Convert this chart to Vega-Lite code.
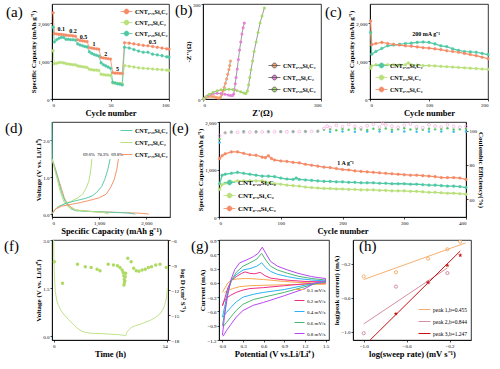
{
"$schema":"https://vega.github.io/schema/vega-lite/v6.json",
"padding":{"left":3,"top":1,"right":2,"bottom":2},
"background":"white",
"config":{
 "font":"Liberation Serif",
 "view":{"stroke":"#000","strokeWidth":0.8},
 "axis":{"grid":false,"labelFont":"Liberation Serif","labelFontSize":5,"labelColor":"#000","labelPadding":1,"tickSize":2,"tickColor":"#000","tickWidth":0.7,"domainColor":"#000","domainWidth":0.8,"titleFont":"Liberation Serif","titleFontWeight":"bold","titleColor":"#000","titlePadding":1,"labelOverlap":false},
 "axisX":{"titleFontSize":8.5},
 "axisY":{"titleFontSize":7},
 "legend":{"labelFont":"Liberation Serif","labelFontSize":6,"labelFontWeight":"bold","labelColor":"#000","padding":0,"rowPadding":1,"offset":2,"labelOffset":2,"symbolStrokeWidth":0.8},
 "title":{"anchor":"start","frame":"group","baseline":"top","offset":-16,"fontSize":15,"fontWeight":"normal","font":"Liberation Serif","color":"#000"},
 "text":{"font":"Liberation Serif","fontWeight":"bold","fontSize":6,"color":"#000"}
},
"datasets":{
 "a":[
  {"c":1,"v":2270,"s":"A"},{"c":2,"v":1720,"s":"A"},{"c":4,"v":1710,"s":"A"},{"c":6,"v":1700,"s":"A"},{"c":8,"v":1700,"s":"A"},{"c":10,"v":1690,"s":"A"},{"c":12,"v":1680,"s":"A"},{"c":14,"v":1670,"s":"A"},{"c":16,"v":1670,"s":"A"},{"c":18,"v":1660,"s":"A"},{"c":20,"v":1650,"s":"A"},{"c":22,"v":1560,"s":"A"},{"c":24,"v":1540,"s":"A"},{"c":26,"v":1530,"s":"A"},{"c":28,"v":1520,"s":"A"},{"c":30,"v":1510,"s":"A"},{"c":32,"v":1350,"s":"A"},{"c":34,"v":1340,"s":"A"},{"c":36,"v":1330,"s":"A"},{"c":38,"v":1320,"s":"A"},{"c":40,"v":1310,"s":"A"},{"c":42,"v":1090,"s":"A"},{"c":44,"v":1080,"s":"A"},{"c":46,"v":1070,"s":"A"},{"c":48,"v":1060,"s":"A"},{"c":50,"v":1050,"s":"A"},{"c":52,"v":690,"s":"A"},{"c":54,"v":680,"s":"A"},{"c":56,"v":680,"s":"A"},{"c":58,"v":675,"s":"A"},{"c":60,"v":670,"s":"A"},{"c":62,"v":1480,"s":"A"},{"c":66,"v":1470,"s":"A"},{"c":70,"v":1450,"s":"A"},{"c":74,"v":1430,"s":"A"},{"c":78,"v":1410,"s":"A"},{"c":82,"v":1400,"s":"A"},{"c":86,"v":1380,"s":"A"},{"c":90,"v":1360,"s":"A"},{"c":94,"v":1340,"s":"A"},{"c":98,"v":1320,"s":"A"},{"c":100,"v":1310,"s":"A"},
  {"c":1,"v":1270,"s":"B"},{"c":2,"v":930,"s":"B"},{"c":4,"v":940,"s":"B"},{"c":6,"v":960,"s":"B"},{"c":8,"v":960,"s":"B"},{"c":10,"v":950,"s":"B"},{"c":12,"v":930,"s":"B"},{"c":14,"v":920,"s":"B"},{"c":16,"v":910,"s":"B"},{"c":18,"v":900,"s":"B"},{"c":20,"v":900,"s":"B"},{"c":22,"v":870,"s":"B"},{"c":24,"v":860,"s":"B"},{"c":26,"v":850,"s":"B"},{"c":28,"v":840,"s":"B"},{"c":30,"v":830,"s":"B"},{"c":32,"v":780,"s":"B"},{"c":34,"v":770,"s":"B"},{"c":36,"v":760,"s":"B"},{"c":38,"v":760,"s":"B"},{"c":40,"v":750,"s":"B"},{"c":42,"v":650,"s":"B"},{"c":44,"v":640,"s":"B"},{"c":46,"v":630,"s":"B"},{"c":48,"v":630,"s":"B"},{"c":50,"v":620,"s":"B"},{"c":52,"v":420,"s":"B"},{"c":54,"v":420,"s":"B"},{"c":56,"v":410,"s":"B"},{"c":58,"v":410,"s":"B"},{"c":60,"v":400,"s":"B"},{"c":62,"v":880,"s":"B"},{"c":66,"v":860,"s":"B"},{"c":70,"v":840,"s":"B"},{"c":74,"v":820,"s":"B"},{"c":78,"v":810,"s":"B"},{"c":82,"v":800,"s":"B"},{"c":86,"v":790,"s":"B"},{"c":90,"v":780,"s":"B"},{"c":94,"v":770,"s":"B"},{"c":98,"v":760,"s":"B"},{"c":100,"v":750,"s":"B"},
  {"c":1,"v":1890,"s":"C"},{"c":2,"v":1500,"s":"C"},{"c":4,"v":1560,"s":"C"},{"c":6,"v":1600,"s":"C"},{"c":8,"v":1620,"s":"C"},{"c":10,"v":1620,"s":"C"},{"c":12,"v":1570,"s":"C"},{"c":14,"v":1570,"s":"C"},{"c":16,"v":1560,"s":"C"},{"c":18,"v":1560,"s":"C"},{"c":20,"v":1550,"s":"C"},{"c":22,"v":1450,"s":"C"},{"c":24,"v":1420,"s":"C"},{"c":26,"v":1400,"s":"C"},{"c":28,"v":1380,"s":"C"},{"c":30,"v":1370,"s":"C"},{"c":32,"v":1240,"s":"C"},{"c":34,"v":1200,"s":"C"},{"c":36,"v":1170,"s":"C"},{"c":38,"v":1150,"s":"C"},{"c":40,"v":1130,"s":"C"},{"c":42,"v":950,"s":"C"},{"c":44,"v":900,"s":"C"},{"c":46,"v":870,"s":"C"},{"c":48,"v":840,"s":"C"},{"c":50,"v":810,"s":"C"},{"c":52,"v":440,"s":"C"},{"c":54,"v":420,"s":"C"},{"c":56,"v":400,"s":"C"},{"c":58,"v":390,"s":"C"},{"c":60,"v":370,"s":"C"},{"c":62,"v":1360,"s":"C"},{"c":66,"v":1340,"s":"C"},{"c":70,"v":1300,"s":"C"},{"c":74,"v":1260,"s":"C"},{"c":78,"v":1230,"s":"C"},{"c":82,"v":1230,"s":"C"},{"c":86,"v":1180,"s":"C"},{"c":90,"v":1160,"s":"C"},{"c":94,"v":1140,"s":"C"},{"c":98,"v":1110,"s":"C"},{"c":100,"v":1100,"s":"C"}
 ],
 "at":[{"x":8,"y":1830,"t":"0.1"},{"x":18,"y":1790,"t":"0.2"},{"x":27,"y":1640,"t":"0.5"},{"x":36,"y":1440,"t":"1"},{"x":46,"y":1180,"t":"2"},{"x":56,"y":790,"t":"5"},{"x":86,"y":1500,"t":"0.5"}],
 "b":[
  {"x":2,"y":0,"s":"A"},{"x":5,"y":3,"s":"A"},{"x":9,"y":6,"s":"A"},{"x":14,"y":8,"s":"A"},{"x":19,"y":8.5,"s":"A"},{"x":24,"y":8,"s":"A"},{"x":29,"y":7,"s":"A"},{"x":34,"y":5,"s":"A"},{"x":38,"y":3,"s":"A"},{"x":42,"y":3,"s":"A"},{"x":45,"y":6,"s":"A"},{"x":48,"y":14,"s":"A"},{"x":51,"y":25,"s":"A"},{"x":54,"y":37,"s":"A"},{"x":57,"y":50,"s":"A"},{"x":60,"y":63,"s":"A"},{"x":63,"y":78,"s":"A"},{"x":66,"y":93,"s":"A"},{"x":68,"y":106,"s":"A"},{"x":70,"y":120,"s":"A"},
  {"x":2,"y":0,"s":"B"},{"x":6,"y":5,"s":"B"},{"x":12,"y":10,"s":"B"},{"x":18,"y":14,"s":"B"},{"x":26,"y":17,"s":"B"},{"x":36,"y":18,"s":"B"},{"x":46,"y":17,"s":"B"},{"x":56,"y":15,"s":"B"},{"x":64,"y":13,"s":"B"},{"x":70,"y":11,"s":"B"},{"x":75,"y":11,"s":"B"},{"x":78,"y":16,"s":"B"},{"x":80,"y":30,"s":"B"},{"x":82,"y":48,"s":"B"},{"x":84,"y":68,"s":"B"},{"x":87,"y":95,"s":"B"},{"x":90,"y":125,"s":"B"},{"x":93,"y":155,"s":"B"},{"x":96,"y":180,"s":"B"},{"x":99,"y":205,"s":"B"},{"x":102,"y":225,"s":"B"},{"x":105,"y":240,"s":"B"},
  {"x":2,"y":0,"s":"C"},{"x":8,"y":8,"s":"C"},{"x":16,"y":15,"s":"C"},{"x":26,"y":21,"s":"C"},{"x":36,"y":26,"s":"C"},{"x":46,"y":29,"s":"C"},{"x":56,"y":30,"s":"C"},{"x":66,"y":31,"s":"C"},{"x":76,"y":30,"s":"C"},{"x":86,"y":27,"s":"C"},{"x":96,"y":23,"s":"C"},{"x":104,"y":19,"s":"C"},{"x":109,"y":17,"s":"C"},{"x":113,"y":25,"s":"C"},{"x":116,"y":45,"s":"C"},{"x":119,"y":68,"s":"C"},{"x":122,"y":92,"s":"C"},{"x":126,"y":120,"s":"C"},{"x":130,"y":150,"s":"C"},{"x":135,"y":180,"s":"C"},{"x":140,"y":210,"s":"C"},{"x":145,"y":240,"s":"C"},{"x":150,"y":262,"s":"C"},{"x":156,"y":287,"s":"C"}
 ],
 "c":[
  {"c":1,"v":1750,"s":"C"},{"c":3,"v":1180,"s":"C"},{"c":10,"v":1250,"s":"C"},{"c":20,"v":1330,"s":"C"},{"c":30,"v":1400,"s":"C"},{"c":40,"v":1420,"s":"C"},{"c":50,"v":1440,"s":"C"},{"c":60,"v":1460,"s":"C"},{"c":70,"v":1470,"s":"C"},{"c":80,"v":1490,"s":"C"},{"c":90,"v":1500,"s":"C"},{"c":100,"v":1490,"s":"C"},{"c":110,"v":1450,"s":"C"},{"c":120,"v":1400,"s":"C"},{"c":130,"v":1380,"s":"C"},{"c":140,"v":1320,"s":"C"},{"c":150,"v":1280,"s":"C"},{"c":160,"v":1250,"s":"C"},{"c":170,"v":1240,"s":"C"},{"c":180,"v":1230,"s":"C"},{"c":190,"v":1200,"s":"C"},{"c":200,"v":1170,"s":"C"},
  {"c":1,"v":810,"s":"B"},{"c":3,"v":870,"s":"B"},{"c":10,"v":900,"s":"B"},{"c":20,"v":910,"s":"B"},{"c":30,"v":900,"s":"B"},{"c":40,"v":900,"s":"B"},{"c":50,"v":890,"s":"B"},{"c":60,"v":900,"s":"B"},{"c":65,"v":950,"s":"B"},{"c":70,"v":900,"s":"B"},{"c":80,"v":890,"s":"B"},{"c":90,"v":880,"s":"B"},{"c":100,"v":880,"s":"B"},{"c":110,"v":870,"s":"B"},{"c":120,"v":860,"s":"B"},{"c":130,"v":850,"s":"B"},{"c":140,"v":840,"s":"B"},{"c":150,"v":830,"s":"B"},{"c":160,"v":820,"s":"B"},{"c":170,"v":810,"s":"B"},{"c":180,"v":800,"s":"B"},{"c":190,"v":790,"s":"B"},{"c":200,"v":780,"s":"B"},
  {"c":1,"v":2050,"s":"A"},{"c":3,"v":1430,"s":"A"},{"c":10,"v":1460,"s":"A"},{"c":20,"v":1490,"s":"A"},{"c":30,"v":1460,"s":"A"},{"c":40,"v":1440,"s":"A"},{"c":50,"v":1420,"s":"A"},{"c":60,"v":1400,"s":"A"},{"c":70,"v":1390,"s":"A"},{"c":80,"v":1370,"s":"A"},{"c":90,"v":1350,"s":"A"},{"c":100,"v":1340,"s":"A"},{"c":110,"v":1320,"s":"A"},{"c":120,"v":1300,"s":"A"},{"c":130,"v":1270,"s":"A"},{"c":140,"v":1250,"s":"A"},{"c":150,"v":1230,"s":"A"},{"c":160,"v":1200,"s":"A"},{"c":170,"v":1170,"s":"A"},{"c":180,"v":1140,"s":"A"},{"c":190,"v":1100,"s":"A"},{"c":200,"v":1060,"s":"A"}
 ],
 "ct":[{"x":95,"y":1720,"t":"200 mA g⁻¹"}],
 "d":[
  {"x":0,"y":1.45,"s":"A","k":"A1"},{"x":30,"y":1.4,"s":"A","k":"A1"},{"x":80,"y":1.2,"s":"A","k":"A1"},{"x":150,"y":0.9,"s":"A","k":"A1"},{"x":200,"y":0.7,"s":"A","k":"A1"},{"x":260,"y":0.45,"s":"A","k":"A1"},{"x":320,"y":0.3,"s":"A","k":"A1"},{"x":400,"y":0.2,"s":"A","k":"A1"},{"x":500,"y":0.12,"s":"A","k":"A1"},{"x":700,"y":0.09,"s":"A","k":"A1"},{"x":1000,"y":0.07,"s":"A","k":"A1"},{"x":1500,"y":0.05,"s":"A","k":"A1"},{"x":1900,"y":0.03,"s":"A","k":"A1"},{"x":2050,"y":0.01,"s":"A","k":"A1"},
  {"x":0,"y":2.5,"s":"C","k":"C1"},{"x":5,"y":1.5,"s":"C","k":"C1"},{"x":50,"y":1.3,"s":"C","k":"C1"},{"x":120,"y":1.0,"s":"C","k":"C1"},{"x":200,"y":0.6,"s":"C","k":"C1"},{"x":280,"y":0.35,"s":"C","k":"C1"},{"x":400,"y":0.15,"s":"C","k":"C1"},{"x":500,"y":0.1,"s":"C","k":"C1"},{"x":800,"y":0.08,"s":"C","k":"C1"},{"x":1200,"y":0.06,"s":"C","k":"C1"},{"x":1600,"y":0.04,"s":"C","k":"C1"},{"x":1760,"y":0.01,"s":"C","k":"C1"},
  {"x":0,"y":1.5,"s":"B","k":"B1"},{"x":40,"y":1.3,"s":"B","k":"B1"},{"x":100,"y":1.0,"s":"B","k":"B1"},{"x":180,"y":0.6,"s":"B","k":"B1"},{"x":250,"y":0.35,"s":"B","k":"B1"},{"x":350,"y":0.2,"s":"B","k":"B1"},{"x":500,"y":0.12,"s":"B","k":"B1"},{"x":800,"y":0.08,"s":"B","k":"B1"},{"x":1100,"y":0.05,"s":"B","k":"B1"},{"x":1200,"y":0.01,"s":"B","k":"B1"},
  {"x":0,"y":0.02,"s":"B","k":"B2"},{"x":50,"y":0.12,"s":"B","k":"B2"},{"x":120,"y":0.2,"s":"B","k":"B2"},{"x":250,"y":0.28,"s":"B","k":"B2"},{"x":400,"y":0.35,"s":"B","k":"B2"},{"x":550,"y":0.45,"s":"B","k":"B2"},{"x":650,"y":0.55,"s":"B","k":"B2"},{"x":720,"y":0.7,"s":"B","k":"B2"},{"x":780,"y":0.9,"s":"B","k":"B2"},{"x":810,"y":1.1,"s":"B","k":"B2"},{"x":830,"y":1.3,"s":"B","k":"B2"},{"x":845,"y":1.5,"s":"B","k":"B2"},
  {"x":0,"y":0.02,"s":"C","k":"C2"},{"x":60,"y":0.12,"s":"C","k":"C2"},{"x":150,"y":0.22,"s":"C","k":"C2"},{"x":300,"y":0.3,"s":"C","k":"C2"},{"x":500,"y":0.37,"s":"C","k":"C2"},{"x":700,"y":0.43,"s":"C","k":"C2"},{"x":850,"y":0.5,"s":"C","k":"C2"},{"x":950,"y":0.6,"s":"C","k":"C2"},{"x":1050,"y":0.75,"s":"C","k":"C2"},{"x":1120,"y":0.95,"s":"C","k":"C2"},{"x":1180,"y":1.2,"s":"C","k":"C2"},{"x":1232,"y":1.5,"s":"C","k":"C2"},
  {"x":0,"y":0.02,"s":"A","k":"A2"},{"x":80,"y":0.15,"s":"A","k":"A2"},{"x":200,"y":0.22,"s":"A","k":"A2"},{"x":400,"y":0.27,"s":"A","k":"A2"},{"x":600,"y":0.32,"s":"A","k":"A2"},{"x":800,"y":0.38,"s":"A","k":"A2"},{"x":1000,"y":0.45,"s":"A","k":"A2"},{"x":1150,"y":0.55,"s":"A","k":"A2"},{"x":1250,"y":0.75,"s":"A","k":"A2"},{"x":1320,"y":0.95,"s":"A","k":"A2"},{"x":1370,"y":1.2,"s":"A","k":"A2"},{"x":1408,"y":1.5,"s":"A","k":"A2"}
 ],
 "dt":[{"x":780,"y":1.62,"t":"69.6%"},{"x":1080,"y":1.62,"t":"70.3%"},{"x":1380,"y":1.62,"t":"69.8%"}],
 "e":[
  {"c":1,"v":1230,"s":"A"},{"c":5,"v":1290,"s":"A"},{"c":10,"v":1330,"s":"A"},{"c":20,"v":1370,"s":"A"},{"c":30,"v":1370,"s":"A"},{"c":40,"v":1340,"s":"A"},{"c":50,"v":1310,"s":"A"},{"c":60,"v":1300,"s":"A"},{"c":70,"v":1260,"s":"A"},{"c":75,"v":1250,"s":"A"},{"c":80,"v":1290,"s":"A"},{"c":85,"v":1230,"s":"A"},{"c":90,"v":1200,"s":"A"},{"c":100,"v":1180,"s":"A"},{"c":110,"v":1170,"s":"A"},{"c":120,"v":1150,"s":"A"},{"c":130,"v":1140,"s":"A"},{"c":140,"v":1110,"s":"A"},{"c":150,"v":1090,"s":"A"},{"c":160,"v":1070,"s":"A"},{"c":170,"v":1050,"s":"A"},{"c":180,"v":1040,"s":"A"},{"c":190,"v":1020,"s":"A"},{"c":200,"v":1000,"s":"A"},{"c":210,"v":990,"s":"A"},{"c":220,"v":970,"s":"A"},{"c":230,"v":960,"s":"A"},{"c":240,"v":950,"s":"A"},{"c":250,"v":940,"s":"A"},{"c":260,"v":930,"s":"A"},{"c":270,"v":920,"s":"A"},{"c":280,"v":910,"s":"A"},{"c":290,"v":900,"s":"A"},{"c":300,"v":890,"s":"A"},{"c":310,"v":880,"s":"A"},{"c":320,"v":880,"s":"A"},{"c":330,"v":870,"s":"A"},{"c":340,"v":860,"s":"A"},{"c":350,"v":850,"s":"A"},{"c":360,"v":830,"s":"A"},{"c":370,"v":830,"s":"A"},{"c":380,"v":830,"s":"A"},{"c":390,"v":820,"s":"A"},{"c":400,"v":790,"s":"A"},
  {"c":1,"v":700,"s":"C"},{"c":5,"v":880,"s":"C"},{"c":10,"v":900,"s":"C"},{"c":20,"v":920,"s":"C"},{"c":30,"v":940,"s":"C"},{"c":40,"v":920,"s":"C"},{"c":50,"v":900,"s":"C"},{"c":60,"v":880,"s":"C"},{"c":70,"v":860,"s":"C"},{"c":80,"v":860,"s":"C"},{"c":90,"v":850,"s":"C"},{"c":100,"v":820,"s":"C"},{"c":110,"v":800,"s":"C"},{"c":120,"v":790,"s":"C"},{"c":125,"v":820,"s":"C"},{"c":130,"v":790,"s":"C"},{"c":140,"v":780,"s":"C"},{"c":150,"v":770,"s":"C"},{"c":160,"v":760,"s":"C"},{"c":170,"v":750,"s":"C"},{"c":180,"v":750,"s":"C"},{"c":190,"v":740,"s":"C"},{"c":200,"v":740,"s":"C"},{"c":210,"v":730,"s":"C"},{"c":220,"v":730,"s":"C"},{"c":230,"v":720,"s":"C"},{"c":240,"v":720,"s":"C"},{"c":250,"v":720,"s":"C"},{"c":260,"v":710,"s":"C"},{"c":270,"v":710,"s":"C"},{"c":280,"v":700,"s":"C"},{"c":290,"v":700,"s":"C"},{"c":300,"v":700,"s":"C"},{"c":310,"v":690,"s":"C"},{"c":320,"v":690,"s":"C"},{"c":330,"v":680,"s":"C"},{"c":340,"v":670,"s":"C"},{"c":350,"v":670,"s":"C"},{"c":360,"v":660,"s":"C"},{"c":370,"v":650,"s":"C"},{"c":380,"v":650,"s":"C"},{"c":390,"v":640,"s":"C"},{"c":400,"v":620,"s":"C"},
  {"c":1,"v":580,"s":"B"},{"c":5,"v":680,"s":"B"},{"c":10,"v":710,"s":"B"},{"c":20,"v":740,"s":"B"},{"c":30,"v":760,"s":"B"},{"c":40,"v":760,"s":"B"},{"c":50,"v":760,"s":"B"},{"c":60,"v":760,"s":"B"},{"c":70,"v":760,"s":"B"},{"c":75,"v":740,"s":"B"},{"c":80,"v":720,"s":"B"},{"c":90,"v":700,"s":"B"},{"c":100,"v":690,"s":"B"},{"c":110,"v":670,"s":"B"},{"c":120,"v":660,"s":"B"},{"c":130,"v":650,"s":"B"},{"c":140,"v":630,"s":"B"},{"c":150,"v":620,"s":"B"},{"c":160,"v":610,"s":"B"},{"c":170,"v":600,"s":"B"},{"c":180,"v":600,"s":"B"},{"c":190,"v":590,"s":"B"},{"c":200,"v":590,"s":"B"},{"c":210,"v":580,"s":"B"},{"c":220,"v":580,"s":"B"},{"c":230,"v":570,"s":"B"},{"c":240,"v":570,"s":"B"},{"c":250,"v":570,"s":"B"},{"c":260,"v":560,"s":"B"},{"c":270,"v":560,"s":"B"},{"c":280,"v":550,"s":"B"},{"c":290,"v":550,"s":"B"},{"c":300,"v":550,"s":"B"},{"c":310,"v":540,"s":"B"},{"c":320,"v":540,"s":"B"},{"c":330,"v":530,"s":"B"},{"c":340,"v":520,"s":"B"},{"c":350,"v":520,"s":"B"},{"c":360,"v":510,"s":"B"},{"c":370,"v":500,"s":"B"},{"c":380,"v":500,"s":"B"},{"c":390,"v":490,"s":"B"},{"c":400,"v":480,"s":"B"}
 ],
 "et":[{"x":205,"y":1130,"t":"1 A g⁻¹"}],
 "ce":[
  {"c":1,"v":93,"s":"Q"},{"c":20,"v":99.3,"s":"Q"},{"c":40,"v":99.4,"s":"Q"},{"c":60,"v":99.3,"s":"Q"},{"c":80,"v":99.4,"s":"Q"},{"c":100,"v":99.4,"s":"Q"},{"c":120,"v":99.3,"s":"Q"},{"c":140,"v":99.4,"s":"Q"},{"c":160,"v":99.4,"s":"Q"},{"c":180,"v":99.3,"s":"Q"},{"c":200,"v":99.4,"s":"Q"},{"c":220,"v":99.3,"s":"Q"},{"c":240,"v":99.4,"s":"Q"},{"c":260,"v":99.4,"s":"Q"},{"c":280,"v":99.3,"s":"Q"},{"c":300,"v":99.4,"s":"Q"},{"c":320,"v":99.3,"s":"Q"},{"c":340,"v":99.4,"s":"Q"},{"c":360,"v":99.4,"s":"Q"},{"c":380,"v":99.3,"s":"Q"},{"c":400,"v":99.4,"s":"Q"},
  {"c":1,"v":95,"s":"G"},{"c":10,"v":98.8,"s":"G"},{"c":20,"v":99.2,"s":"G"},{"c":40,"v":99.4,"s":"G"},{"c":60,"v":99.5,"s":"G"},{"c":80,"v":99.5,"s":"G"},{"c":100,"v":99.5,"s":"G"},{"c":120,"v":99.6,"s":"G"},{"c":140,"v":99.6,"s":"G"},{"c":160,"v":99.7,"s":"G"},{"c":170,"v":100.4,"s":"G"},{"c":180,"v":100.8,"s":"G"},{"c":190,"v":100.2,"s":"G"},{"c":200,"v":100.9,"s":"G"},{"c":210,"v":100.5,"s":"G"},{"c":220,"v":101.1,"s":"G"},{"c":230,"v":100.6,"s":"G"},{"c":240,"v":100.3,"s":"G"},{"c":250,"v":101,"s":"G"},{"c":260,"v":100.7,"s":"G"},{"c":270,"v":101.2,"s":"G"},{"c":280,"v":100.5,"s":"G"},{"c":290,"v":100.8,"s":"G"},{"c":300,"v":101.3,"s":"G"},{"c":310,"v":100.6,"s":"G"},{"c":320,"v":100.9,"s":"G"},{"c":330,"v":100.4,"s":"G"},{"c":340,"v":101.1,"s":"G"},{"c":350,"v":100.7,"s":"G"},{"c":360,"v":100.9,"s":"G"},{"c":370,"v":101.4,"s":"G"},{"c":380,"v":100.6,"s":"G"},{"c":390,"v":100.8,"s":"G"},{"c":400,"v":101,"s":"G"},
  {"c":1,"v":97,"s":"P"},{"c":10,"v":98.6,"s":"P"},{"c":20,"v":98.9,"s":"P"},{"c":30,"v":99,"s":"P"},{"c":40,"v":99.1,"s":"P"},{"c":50,"v":99.1,"s":"P"},{"c":60,"v":99.2,"s":"P"},{"c":70,"v":99.2,"s":"P"},{"c":80,"v":99.2,"s":"P"},{"c":90,"v":99.3,"s":"P"},{"c":100,"v":99.3,"s":"P"},{"c":110,"v":99.3,"s":"P"},{"c":120,"v":99.3,"s":"P"},{"c":130,"v":99.4,"s":"P"},{"c":140,"v":99.4,"s":"P"},{"c":150,"v":99.5,"s":"P"},{"c":160,"v":99.6,"s":"P"},{"c":170,"v":101.2,"s":"P"},{"c":175,"v":102.5,"s":"P"},{"c":180,"v":101.8,"s":"P"},{"c":190,"v":103,"s":"P"},{"c":200,"v":102.2,"s":"P"},{"c":210,"v":103.5,"s":"P"},{"c":220,"v":102.4,"s":"P"},{"c":230,"v":101.6,"s":"P"},{"c":240,"v":102.8,"s":"P"},{"c":250,"v":103.6,"s":"P"},{"c":260,"v":102.1,"s":"P"},{"c":265,"v":104.2,"s":"P"},{"c":270,"v":103.2,"s":"P"},{"c":280,"v":102.5,"s":"P"},{"c":290,"v":101.9,"s":"P"},{"c":300,"v":103,"s":"P"},{"c":310,"v":103.8,"s":"P"},{"c":320,"v":102.2,"s":"P"},{"c":330,"v":101.7,"s":"P"},{"c":340,"v":103.4,"s":"P"},{"c":350,"v":102.6,"s":"P"},{"c":360,"v":102,"s":"P"},{"c":370,"v":103.3,"s":"P"},{"c":380,"v":102.5,"s":"P"},{"c":390,"v":101.9,"s":"P"},{"c":400,"v":102.4,"s":"P"}
 ],
 "f":[
  {"t":0,"v":3.0},{"t":0.1,"v":2.4},{"t":0.3,"v":1.96},{"t":0.75,"v":1.4},{"t":1.5,"v":1.1},{"t":2.3,"v":0.95},{"t":3.5,"v":0.8},{"t":4.7,"v":0.69},{"t":7,"v":0.52},{"t":9.3,"v":0.37},{"t":11,"v":0.26},{"t":13.2,"v":0.16},{"t":15,"v":0.12},{"t":17.8,"v":0.09},{"t":22.5,"v":0.08},{"t":27,"v":0.06},{"t":30.3,"v":0.05},{"t":33,"v":0.03},{"t":34.2,"v":0.01},{"t":35,"v":0.15},{"t":36.8,"v":0.27},{"t":39,"v":0.33},{"t":41.1,"v":0.37},{"t":45.8,"v":0.49},{"t":48,"v":0.57},{"t":50.4,"v":0.69},{"t":51.8,"v":0.82},{"t":52.8,"v":0.98},{"t":53.6,"v":1.2},{"t":54,"v":1.5}
 ],
 "fd":[
  {"t":0.3,"d":-8.6},{"t":4.2,"d":-11.2},{"t":11.3,"d":-8.9},{"t":15,"d":-9.2},{"t":17.8,"d":-9.3},{"t":20.6,"d":-9.5},{"t":22,"d":-9.7},{"t":25.9,"d":-8.9},{"t":28.4,"d":-9.0},{"t":30.3,"d":-9.1},{"t":31.5,"d":-9.3},{"t":32.5,"d":-9.6},{"t":33,"d":-9.9},{"t":33.3,"d":-10.3},{"t":33.5,"d":-10.7},{"t":33.6,"d":-11.1},{"t":33.4,"d":-11.4},{"t":33.8,"d":-10.9},{"t":34,"d":-10.4},{"t":34.2,"d":-10.0},{"t":35.2,"d":-8.2},{"t":36.8,"d":-8.6},{"t":38,"d":-9.4},{"t":39.2,"d":-9.7},{"t":40.5,"d":-9.75},{"t":42,"d":-9.6},{"t":43.5,"d":-9.5},{"t":45,"d":-9.3},{"t":46.5,"d":-9.2},{"t":48.5,"d":-9.0},{"t":50.5,"d":-8.9},{"t":53.5,"d":-9.3}
 ],
 "g":[
  {"v":0.0,"i":-0.2,"r":"0.1","o":1},{"v":0.04,"i":-0.1,"r":"0.1","o":2},{"v":0.08,"i":0.0,"r":"0.1","o":3},{"v":0.13,"i":0.06,"r":"0.1","o":4},{"v":0.2,"i":0.08,"r":"0.1","o":5},{"v":0.3,"i":0.09,"r":"0.1","o":6},{"v":0.4,"i":0.09,"r":"0.1","o":7},{"v":0.5,"i":0.08,"r":"0.1","o":8},{"v":0.6,"i":0.07,"r":"0.1","o":9},{"v":0.75,"i":0.05,"r":"0.1","o":10},{"v":0.9,"i":0.03,"r":"0.1","o":11},{"v":1.1,"i":0.01,"r":"0.1","o":12},{"v":1.3,"i":0.0,"r":"0.1","o":13},{"v":1.5,"i":-0.01,"r":"0.1","o":14},{"v":1.5,"i":-0.03,"r":"0.1","o":15},{"v":1.2,"i":-0.03,"r":"0.1","o":16},{"v":0.9,"i":-0.04,"r":"0.1","o":17},{"v":0.6,"i":-0.05,"r":"0.1","o":18},{"v":0.4,"i":-0.06,"r":"0.1","o":19},{"v":0.25,"i":-0.08,"r":"0.1","o":20},{"v":0.15,"i":-0.12,"r":"0.1","o":21},{"v":0.08,"i":-0.16,"r":"0.1","o":22},{"v":0.03,"i":-0.2,"r":"0.1","o":23},
  {"v":0.0,"i":-0.48,"r":"0.2","o":1},{"v":0.04,"i":-0.3,"r":"0.2","o":2},{"v":0.08,"i":-0.1,"r":"0.2","o":3},{"v":0.13,"i":0.05,"r":"0.2","o":4},{"v":0.2,"i":0.13,"r":"0.2","o":5},{"v":0.28,"i":0.2,"r":"0.2","o":6},{"v":0.33,"i":0.23,"r":"0.2","o":7},{"v":0.4,"i":0.2,"r":"0.2","o":8},{"v":0.47,"i":0.19,"r":"0.2","o":9},{"v":0.55,"i":0.22,"r":"0.2","o":10},{"v":0.62,"i":0.15,"r":"0.2","o":11},{"v":0.7,"i":0.1,"r":"0.2","o":12},{"v":0.85,"i":0.07,"r":"0.2","o":13},{"v":1.0,"i":0.05,"r":"0.2","o":14},{"v":1.2,"i":0.03,"r":"0.2","o":15},{"v":1.5,"i":0.02,"r":"0.2","o":16},{"v":1.5,"i":0.0,"r":"0.2","o":17},{"v":1.2,"i":-0.02,"r":"0.2","o":18},{"v":0.9,"i":-0.06,"r":"0.2","o":19},{"v":0.6,"i":-0.1,"r":"0.2","o":20},{"v":0.4,"i":-0.12,"r":"0.2","o":21},{"v":0.3,"i":-0.15,"r":"0.2","o":22},{"v":0.2,"i":-0.2,"r":"0.2","o":23},{"v":0.12,"i":-0.26,"r":"0.2","o":24},{"v":0.06,"i":-0.32,"r":"0.2","o":25},{"v":0.02,"i":-0.4,"r":"0.2","o":26},{"v":0.0,"i":-0.48,"r":"0.2","o":27},
  {"v":0.0,"i":-0.72,"r":"0.4","o":1},{"v":0.04,"i":-0.45,"r":"0.4","o":2},{"v":0.08,"i":-0.15,"r":"0.4","o":3},{"v":0.13,"i":0.05,"r":"0.4","o":4},{"v":0.2,"i":0.17,"r":"0.4","o":5},{"v":0.3,"i":0.27,"r":"0.4","o":6},{"v":0.4,"i":0.3,"r":"0.4","o":7},{"v":0.5,"i":0.35,"r":"0.4","o":8},{"v":0.57,"i":0.42,"r":"0.4","o":9},{"v":0.63,"i":0.32,"r":"0.4","o":10},{"v":0.7,"i":0.24,"r":"0.4","o":11},{"v":0.8,"i":0.18,"r":"0.4","o":12},{"v":0.95,"i":0.13,"r":"0.4","o":13},{"v":1.1,"i":0.09,"r":"0.4","o":14},{"v":1.3,"i":0.06,"r":"0.4","o":15},{"v":1.5,"i":0.04,"r":"0.4","o":16},{"v":1.5,"i":0.02,"r":"0.4","o":17},{"v":1.35,"i":-0.01,"r":"0.4","o":18},{"v":1.2,"i":-0.05,"r":"0.4","o":19},{"v":0.9,"i":-0.14,"r":"0.4","o":20},{"v":0.6,"i":-0.2,"r":"0.4","o":21},{"v":0.45,"i":-0.24,"r":"0.4","o":22},{"v":0.3,"i":-0.3,"r":"0.4","o":23},{"v":0.2,"i":-0.4,"r":"0.4","o":24},{"v":0.12,"i":-0.52,"r":"0.4","o":25},{"v":0.06,"i":-0.62,"r":"0.4","o":26},{"v":0.01,"i":-0.72,"r":"0.4","o":27},
  {"v":0.0,"i":-0.9,"r":"0.6","o":1},{"v":0.04,"i":-0.55,"r":"0.6","o":2},{"v":0.08,"i":-0.2,"r":"0.6","o":3},{"v":0.13,"i":0.05,"r":"0.6","o":4},{"v":0.2,"i":0.22,"r":"0.6","o":5},{"v":0.3,"i":0.35,"r":"0.6","o":6},{"v":0.4,"i":0.42,"r":"0.6","o":7},{"v":0.5,"i":0.5,"r":"0.6","o":8},{"v":0.57,"i":0.62,"r":"0.6","o":9},{"v":0.63,"i":0.48,"r":"0.6","o":10},{"v":0.7,"i":0.35,"r":"0.6","o":11},{"v":0.8,"i":0.27,"r":"0.6","o":12},{"v":0.95,"i":0.2,"r":"0.6","o":13},{"v":1.1,"i":0.14,"r":"0.6","o":14},{"v":1.3,"i":0.09,"r":"0.6","o":15},{"v":1.5,"i":0.06,"r":"0.6","o":16},{"v":1.5,"i":0.03,"r":"0.6","o":17},{"v":1.35,"i":-0.02,"r":"0.6","o":18},{"v":1.2,"i":-0.08,"r":"0.6","o":19},{"v":0.9,"i":-0.2,"r":"0.6","o":20},{"v":0.6,"i":-0.3,"r":"0.6","o":21},{"v":0.45,"i":-0.35,"r":"0.6","o":22},{"v":0.3,"i":-0.45,"r":"0.6","o":23},{"v":0.2,"i":-0.58,"r":"0.6","o":24},{"v":0.12,"i":-0.72,"r":"0.6","o":25},{"v":0.06,"i":-0.83,"r":"0.6","o":26},{"v":0.01,"i":-0.92,"r":"0.6","o":27},
  {"v":0.0,"i":-1.1,"r":"0.8","o":1},{"v":0.03,"i":-0.7,"r":"0.8","o":2},{"v":0.07,"i":-0.3,"r":"0.8","o":3},{"v":0.12,"i":0.05,"r":"0.8","o":4},{"v":0.18,"i":0.28,"r":"0.8","o":5},{"v":0.25,"i":0.42,"r":"0.8","o":6},{"v":0.35,"i":0.48,"r":"0.8","o":7},{"v":0.45,"i":0.55,"r":"0.8","o":8},{"v":0.52,"i":0.62,"r":"0.8","o":9},{"v":0.58,"i":0.75,"r":"0.8","o":10},{"v":0.63,"i":0.62,"r":"0.8","o":11},{"v":0.7,"i":0.45,"r":"0.8","o":12},{"v":0.8,"i":0.35,"r":"0.8","o":13},{"v":0.95,"i":0.27,"r":"0.8","o":14},{"v":1.1,"i":0.2,"r":"0.8","o":15},{"v":1.3,"i":0.13,"r":"0.8","o":16},{"v":1.5,"i":0.09,"r":"0.8","o":17},{"v":1.5,"i":0.04,"r":"0.8","o":18},{"v":1.35,"i":0.0,"r":"0.8","o":19},{"v":1.2,"i":-0.12,"r":"0.8","o":20},{"v":0.9,"i":-0.27,"r":"0.8","o":21},{"v":0.6,"i":-0.41,"r":"0.8","o":22},{"v":0.45,"i":-0.47,"r":"0.8","o":23},{"v":0.3,"i":-0.58,"r":"0.8","o":24},{"v":0.2,"i":-0.72,"r":"0.8","o":25},{"v":0.12,"i":-0.88,"r":"0.8","o":26},{"v":0.06,"i":-1.0,"r":"0.8","o":27},{"v":0.01,"i":-1.12,"r":"0.8","o":28}
 ],
 "hp":[
  {"x":-1.0,"y":-0.35,"p":"1"},{"x":-0.7,"y":-0.3,"p":"1"},{"x":-0.4,"y":-0.14,"p":"1"},{"x":-0.22,"y":-0.03,"p":"1"},{"x":-0.1,"y":0.06,"p":"1"},
  {"x":-1.0,"y":-1.02,"p":"2"},{"x":-0.7,"y":-0.47,"p":"2"},{"x":-0.4,"y":-0.42,"p":"2"},{"x":-0.22,"y":-0.31,"p":"2"},
  {"x":-0.7,"y":-0.79,"p":"3"},{"x":-0.4,"y":-0.42,"p":"3"},{"x":-0.22,"y":-0.22,"p":"3"},{"x":-0.1,"y":-0.1,"p":"3"}
 ],
 "hl":[
  {"x":-1.0,"y":-0.386,"p":"1"},{"x":-0.05,"y":0.046,"p":"1"},
  {"x":-1.0,"y":-0.91,"p":"2"},{"x":-0.22,"y":-0.25,"p":"2"},
  {"x":-0.94,"y":-1.1,"p":"3"},{"x":-0.1,"y":-0.05,"p":"3"}
 ]
},
"resolve":{"scale":{"color":"independent","fill":"independent","stroke":"independent"}},
"vconcat":[
 {"hconcat":[
  {"width":117,"height":95,"title":{"text":"(a)","dx":-46},
   "layer":[
    {"data":{"name":"a"},"mark":{"type":"line","strokeWidth":0.8},
     "encoding":{
      "x":{"field":"c","type":"quantitative","scale":{"domain":[0,100],"nice":false},"axis":{"values":[0,50,100],"title":"Cycle number"}},
      "y":{"field":"v","type":"quantitative","scale":{"domain":[0,2500],"nice":false},"axis":{"values":[0,500,1000,1500,2000,2500],"title":"Specific Capacity (mAh g⁻¹)"}},
      "stroke":{"field":"s","type":"nominal","scale":{"domain":["A","B","C"],"range":["#F58A67","#B9E07A","#4FC9A4"]},"legend":{"orient":"top-right","title":null,"labelExpr":"datum.label=='A'?'CNT₀.₇₅Si₂C₂':datum.label=='B'?'CNT₀.₅Si₂C₂':'CNT₀.₂₅Si₂C₂'","symbolType":"M-1,0H1M-0.4,0A0.4,0.4,0,1,0,0.4,0A0.4,0.4,0,1,0,-0.4,0Z","symbolSize":144,"rowPadding":0,"offset":1}}}},
    {"data":{"name":"a"},"mark":{"type":"point","filled":true,"size":7,"strokeWidth":0.5,"opacity":1},
     "encoding":{
      "x":{"field":"c","type":"quantitative"},
      "y":{"field":"v","type":"quantitative"},
      "fill":{"field":"s","type":"nominal","scale":{"domain":["A","B","C"],"range":["#F58A67","#B9E07A","#4FC9A4"]},"legend":{"orient":"top-right","title":null,"labelExpr":"datum.label=='A'?'CNT₀.₇₅Si₂C₂':datum.label=='B'?'CNT₀.₅Si₂C₂':'CNT₀.₂₅Si₂C₂'","symbolType":"M-1,0H1M-0.4,0A0.4,0.4,0,1,0,0.4,0A0.4,0.4,0,1,0,-0.4,0Z","symbolSize":144,"rowPadding":0,"offset":1}},
      "stroke":{"field":"s","type":"nominal"}}},
    {"data":{"name":"at"},"mark":{"type":"text"},
     "encoding":{"x":{"field":"x","type":"quantitative"},"y":{"field":"y","type":"quantitative"},"text":{"field":"t"}}}
   ]},
  {"width":118,"height":95,"title":{"text":"(b)","dx":-28},
   "layer":[
    {"data":{"name":"b"},"mark":{"type":"line","strokeWidth":0.6,"color":"#555"},
     "encoding":{
      "x":{"field":"x","type":"quantitative","scale":{"domain":[0,300],"nice":false},"axis":{"values":[0,50,100,150,200,250,300],"title":"Z'(Ω)"}},
      "y":{"field":"y","type":"quantitative","scale":{"domain":[0,300],"nice":false},"axis":{"values":[0,50,100,150,200,250,300],"title":"-Z''(Ω)"}},
      "detail":{"field":"s","type":"nominal"}}},
    {"data":{"name":"b"},"mark":{"type":"point","filled":true,"size":9,"opacity":1},
     "encoding":{
      "x":{"field":"x","type":"quantitative"},
      "y":{"field":"y","type":"quantitative"},
      "fill":{"field":"s","type":"nominal","scale":{"domain":["A","B","C"],"range":["#F5A06E","#E680D6","#A5DA68"]},"legend":{"orient":"bottom-right","title":null,"labelExpr":"datum.label=='A'?'CNT₀.₇₅Si₂C₂':datum.label=='B'?'CNT₀.₅Si₂C₂':'CNT₀.₂₅Si₂C₂'","symbolType":"M-1,0H1M-0.4,0A0.4,0.4,0,1,0,0.4,0A0.4,0.4,0,1,0,-0.4,0Z","symbolSize":144,"symbolStrokeColor":"#555","offset":5}}}}
   ]},
  {"width":118,"height":95,"title":{"text":"(c)","dx":-45},
   "layer":[
    {"data":{"name":"c"},"mark":{"type":"line","strokeWidth":1.2},
     "encoding":{
      "x":{"field":"c","type":"quantitative","scale":{"domain":[0,200],"nice":false},"axis":{"values":[0,50,100,150,200],"title":"Cycle number"}},
      "y":{"field":"v","type":"quantitative","scale":{"domain":[0,2500],"nice":false},"axis":{"values":[0,500,1000,1500,2000,2500],"title":"Specific Capacity (mAh g⁻¹)"}},
      "stroke":{"field":"s","type":"nominal","scale":{"domain":["C","B","A"],"range":["#4FC9A4","#B9E07A","#F58A67"]},"legend":{"orient":"bottom-left","title":null,"labelExpr":"datum.label=='A'?'CNT₀.₇₅Si₂C₂':datum.label=='B'?'CNT₀.₅Si₂C₂':'CNT₀.₂₅Si₂C₂'","symbolType":"M-1,0H1M-0.4,0A0.4,0.4,0,1,0,0.4,0A0.4,0.4,0,1,0,-0.4,0Z","symbolSize":144,"offset":5}}}},
    {"data":{"name":"c"},"mark":{"type":"point","filled":true,"size":7,"strokeWidth":0.5,"opacity":1},
     "encoding":{
      "x":{"field":"c","type":"quantitative"},
      "y":{"field":"v","type":"quantitative"},
      "fill":{"field":"s","type":"nominal","scale":{"domain":["C","B","A"],"range":["#4FC9A4","#B9E07A","#F58A67"]},"legend":{"orient":"bottom-left","title":null,"labelExpr":"datum.label=='A'?'CNT₀.₇₅Si₂C₂':datum.label=='B'?'CNT₀.₅Si₂C₂':'CNT₀.₂₅Si₂C₂'","symbolType":"M-1,0H1M-0.4,0A0.4,0.4,0,1,0,0.4,0A0.4,0.4,0,1,0,-0.4,0Z","symbolSize":144,"offset":5}},
      "stroke":{"field":"s","type":"nominal"}}},
    {"data":{"name":"ct"},"mark":{"type":"text"},
     "encoding":{"x":{"field":"x","type":"quantitative"},"y":{"field":"y","type":"quantitative"},"text":{"field":"t"}}}
   ]}
 ],"spacing":2,"resolve":{"scale":{"color":"independent","fill":"independent","stroke":"independent"}}},
 {"hconcat":[
  {"width":118,"height":95,"title":{"text":"(d)","dx":-47},
   "layer":[
    {"data":{"name":"d"},"mark":{"type":"line","strokeWidth":1},
     "encoding":{
      "x":{"field":"x","type":"quantitative","scale":{"domain":[0,2500],"nice":false},"axis":{"values":[0,500,1000,1500,2000,2500],"title":"Specific Capacity (mAh g⁻¹)"}},
      "y":{"field":"y","type":"quantitative","scale":{"domain":[-0.07,2.5],"nice":false},"axis":{"values":[0,0.5,1,1.5,2,2.5],"format":".1f","title":"Voltage (V vs. Li/Li⁺)"}},
      "detail":{"field":"k","type":"nominal"},
      "stroke":{"field":"s","type":"nominal","scale":{"domain":["C","B","A"],"range":["#5BCCA8","#B8E07E","#F5956E"]},"legend":{"orient":"top-right","title":null,"labelExpr":"datum.label=='A'?'CNT₀.₇₅Si₂C₂':datum.label=='B'?'CNT₀.₅Si₂C₂':'CNT₀.₂₅Si₂C₂'","symbolType":"stroke","symbolSize":144,"symbolStrokeWidth":1,"offset":2,"rowPadding":2}}}},
    {"data":{"name":"dt"},"mark":{"type":"text","fontSize":4.5,"fontWeight":"normal"},
     "encoding":{"x":{"field":"x","type":"quantitative"},"y":{"field":"y","type":"quantitative"},"text":{"field":"t"}}}
   ]},
  {"width":247,"height":95,"title":{"text":"(e)","dx":-47},
   "layer":[
    {"layer":[
     {"data":{"name":"e"},"mark":{"type":"line","strokeWidth":1.3},
      "encoding":{
       "x":{"field":"c","type":"quantitative","scale":{"domain":[0,400],"nice":false},"axis":{"values":[0,50,100,150,200,250,300,350,400],"title":"Cycle number"}},
       "y":{"field":"v","type":"quantitative","scale":{"domain":[0,2000],"nice":false},"axis":{"values":[0,500,1000,1500,2000],"title":"Specific Capacity (mAh g⁻¹)"}},
       "stroke":{"field":"s","type":"nominal","scale":{"domain":["C","B","A"],"range":["#4FC9A4","#B9E07A","#F58A67"]},"legend":{"orient":"bottom-left","title":null,"labelExpr":"datum.label=='A'?'CNT₀.₇₅Si₂C₂':datum.label=='B'?'CNT₀.₅Si₂C₂':'CNT₀.₂₅Si₂C₂'","symbolType":"M-1,0H1M-0.4,0A0.4,0.4,0,1,0,0.4,0A0.4,0.4,0,1,0,-0.4,0Z","symbolSize":144,"labelFontSize":7,"offset":4,"rowPadding":2}}}},
     {"data":{"name":"e"},"mark":{"type":"point","filled":true,"size":7,"strokeWidth":0.5,"opacity":1},
      "encoding":{
       "x":{"field":"c","type":"quantitative"},
       "y":{"field":"v","type":"quantitative"},
       "fill":{"field":"s","type":"nominal","scale":{"domain":["C","B","A"],"range":["#4FC9A4","#B9E07A","#F58A67"]},"legend":{"orient":"bottom-left","title":null,"labelExpr":"datum.label=='A'?'CNT₀.₇₅Si₂C₂':datum.label=='B'?'CNT₀.₅Si₂C₂':'CNT₀.₂₅Si₂C₂'","symbolType":"M-1,0H1M-0.4,0A0.4,0.4,0,1,0,0.4,0A0.4,0.4,0,1,0,-0.4,0Z","symbolSize":144,"labelFontSize":7,"offset":4,"rowPadding":2}},
       "stroke":{"field":"s","type":"nominal"}}},
     {"data":{"name":"et"},"mark":{"type":"text"},
      "encoding":{"x":{"field":"x","type":"quantitative"},"y":{"field":"y","type":"quantitative"},"text":{"field":"t"}}}
    ]},
    {"layer":[
     {"data":{"name":"ce"},"transform":[{"filter":"datum.s=='Q'"}],"mark":{"type":"point","filled":true,"size":6,"color":"#3DBEF0","opacity":1},
      "encoding":{
       "x":{"field":"c","type":"quantitative"},
       "y":{"field":"v","type":"quantitative","scale":{"domain":[49.5,105],"nice":false},"axis":{"orient":"right","values":[60,80,100],"title":"Coulombic Efficiency(%)"}}}},
     {"data":{"name":"ce"},"transform":[{"filter":"datum.s=='G'"}],"mark":{"type":"point","filled":true,"size":6,"color":"#5CC96A","opacity":1},
      "encoding":{"x":{"field":"c","type":"quantitative"},"y":{"field":"v","type":"quantitative"}}},
     {"data":{"name":"ce"},"transform":[{"filter":"datum.s=='P'"}],"mark":{"type":"point","filled":false,"size":8,"strokeWidth":0.7,"color":"#F2A6D8","opacity":1},
      "encoding":{"x":{"field":"c","type":"quantitative"},"y":{"field":"v","type":"quantitative"}}}
    ]}
   ],
   "resolve":{"scale":{"y":"independent"}}}
 ],"spacing":0,"resolve":{"scale":{"color":"independent","fill":"independent","stroke":"independent"}}},
 {"hconcat":[
  {"width":116,"height":100,"title":{"text":"(f)","dx":-48},
   "layer":[
    {"data":{"name":"f"},"mark":{"type":"line","strokeWidth":1,"color":"#C2E28A"},
     "encoding":{
      "x":{"field":"t","type":"quantitative","scale":{"domain":[-0.8,54.3],"nice":false},"axis":{"values":[0,9,18,27,36,45,54],"title":"Time (h)"}},
      "y":{"field":"v","type":"quantitative","scale":{"domain":[-0.12,3.0],"nice":false},"axis":{"values":[0,1.5,3],"format":".1f","title":"Voltage (V vs. Li/Li⁺)"}}}},
    {"data":{"name":"fd"},"mark":{"type":"point","filled":true,"size":12,"color":"#AEDA62","opacity":1},
     "encoding":{
      "x":{"field":"t","type":"quantitative"},
      "y":{"field":"d","type":"quantitative","scale":{"domain":[-18,-6],"nice":false},"axis":{"orient":"right","values":[-18,-15,-12,-9,-6],"title":"log D (cm² S⁻¹)"}}}}
   ],
   "resolve":{"scale":{"y":"independent"}}},
  {"width":110,"height":100,"title":{"text":"(g)","dx":-28},
   "layer":[
    {"data":{"name":"g"},"mark":{"type":"line","strokeWidth":1},
     "encoding":{
      "x":{"field":"v","type":"quantitative","scale":{"domain":[-0.05,1.55],"nice":false},"axis":{"values":[0,0.3,0.6,0.9,1.2,1.5],"format":".1f","title":"Potential (V vs.Li/Li⁺)"}},
      "y":{"field":"i","type":"quantitative","scale":{"domain":[-1.2,0.9],"nice":false},"axis":{"values":[-1.2,-0.9,-0.6,-0.3,0,0.3,0.6,0.9],"format":".1f","title":"Current (mA)"}},
      "order":{"field":"o","type":"quantitative"},
      "stroke":{"field":"r","type":"nominal","scale":{"domain":["0.1","0.2","0.4","0.6","0.8"],"range":["#F7A84F","#EE2F86","#2DB3F3","#4DB774","#B548F2"]},"legend":{"orient":"bottom-right","title":null,"labelExpr":"datum.label+' mV/s'","symbolType":"stroke","symbolSize":100,"symbolStrokeWidth":1,"labelFontSize":5,"labelFontWeight":"normal","rowPadding":2,"offset":3}}}}
   ]},
  {"width":118,"height":100,"title":{"text":"(h)","dx":6},
   "layer":[
    {"data":{"name":"hl"},"mark":{"type":"line","strokeWidth":1},
     "encoding":{
      "x":{"field":"x","type":"quantitative","scale":{"domain":[-1.1,0],"nice":false},"axis":{"values":[-1,-0.8,-0.6,-0.4,-0.2,0],"format":".1f","title":"log(sweep rate) (mV s⁻¹)"}},
      "y":{"field":"y","type":"quantitative","scale":{"domain":[-1.1,0.08],"nice":false},"axis":{"values":[-1,-0.8,-0.6,-0.4,-0.2,0],"format":".1f","title":"log(peak current) (mA)"}},
      "stroke":{"field":"p","type":"nominal","scale":{"domain":["1","2","3"],"range":["#F5B070","#D48FA0","#C81010"]},"legend":{"orient":"bottom-right","title":null,"labelExpr":"'peak '+datum.label+',b='+(datum.label=='1'?'0.455':datum.label=='2'?'0.844':'1.247')","symbolType":"stroke","symbolSize":144,"symbolStrokeWidth":1,"labelFontSize":5.5,"labelFontWeight":"normal","rowPadding":2,"offset":3}}}},
    {"data":{"name":"hp"},"transform":[{"filter":"datum.p=='1'"}],"mark":{"type":"point","filled":false,"size":10,"strokeWidth":1,"color":"#F5B070","opacity":1},
     "encoding":{"x":{"field":"x","type":"quantitative"},"y":{"field":"y","type":"quantitative"}}},
    {"data":{"name":"hp"},"transform":[{"filter":"datum.p=='2'"}],"mark":{"type":"point","filled":false,"size":10,"strokeWidth":1,"color":"#D48FA0","opacity":1},
     "encoding":{"x":{"field":"x","type":"quantitative"},"y":{"field":"y","type":"quantitative"}}},
    {"data":{"name":"hp"},"transform":[{"filter":"datum.p=='3'"}],"mark":{"type":"point","filled":true,"size":22,"color":"#C81010","opacity":1,"shape":"M0,-1L0.22,-0.31L0.95,-0.31L0.36,0.12L0.59,0.81L0,0.38L-0.59,0.81L-0.36,0.12L-0.95,-0.31L-0.22,-0.31Z"},
     "encoding":{"x":{"field":"x","type":"quantitative"},"y":{"field":"y","type":"quantitative"}}}
   ]}
 ],"spacing":2,"resolve":{"scale":{"color":"independent","fill":"independent","stroke":"independent"}}}
],
"spacing":2
}
